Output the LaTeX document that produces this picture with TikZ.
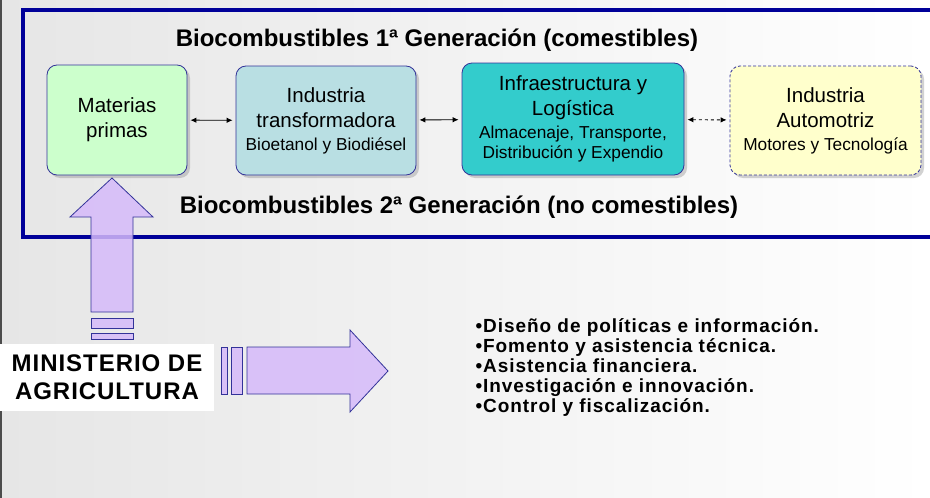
\documentclass[tikz,border=0pt]{standalone}
\usepackage{fontspec}
\setmainfont{Liberation Sans}
\usepackage{tikz}
\usetikzlibrary{positioning, shadows, arrows.meta}

\definecolor{marco}{RGB}{0,0,153}
\definecolor{borde}{RGB}{51,51,153}
\definecolor{verdeMP}{RGB}{204,255,204}
\definecolor{azulIT}{RGB}{185,223,227}
\definecolor{tealIL}{RGB}{51,204,204}
\definecolor{amarilloIA}{RGB}{255,255,204}
\definecolor{lila}{RGB}{214,186,250}
\definecolor{fondo}{RGB}{230,230,230}

\newcommand{\subtxt}[1]{{\fontsize{17.3}{21}\selectfont #1}}

\begin{document}
\begin{tikzpicture}[x=1pt, y=-1pt, font=\fontsize{20.5}{25}\selectfont]
        % Setup the styles
        \tikzset{etapa/.style={rectangle,
                               rounded corners=10pt,
                               draw=borde,
                               line width=0.8pt,
                               align=center,
                               inner sep=2pt,
                               drop shadow={shadow xshift=3pt, shadow yshift=-3pt, opacity=.35}},
                 enlace/.style={{Latex[length=6pt,width=5.5pt]}-{Latex[length=6pt,width=5.5pt]},
                                line width=0.9pt,
                                shorten <=3pt, shorten >=3pt},
                 flecha/.style={draw=borde, line width=0.8pt, fill=lila, fill opacity=.85},
                 titulo/.style={font=\bfseries\fontsize{24}{26}\selectfont}}

        % Background and frame
        \useasboundingbox (0,0) rectangle (930,498);
        \shade[left color=fondo, right color=white] (0,0) rectangle (930,498);
        \draw[gray!60!black, line width=2pt] (1,0) -- (1,498);
        \draw[marco, line width=4pt] (930,10) -- (23,10) -- (23,237) -- (930,237);

        % Draw the titles
        \node[titulo] at (437,40)  (gen1) {Biocombustibles 1ª Generación (comestibles)};
        \node[titulo] at (459,207) (gen2) {Biocombustibles 2ª Generación (no comestibles)};

        % Draw the stages
        \node[etapa, fill=verdeMP, minimum width=140pt, minimum height=110pt]
            at (117,120) (mp) {Materias\\primas};
        \node[etapa, fill=azulIT, minimum width=180pt, minimum height=109pt]
            at (326,120.5) (it) {Industria\\transformadora\\[-2pt]\subtxt{Bioetanol y Biodiésel}};
        \node[etapa, fill=tealIL, minimum width=222pt, minimum height=112pt]
            at (573,119) (inf) {Infraestructura y\\Logística\\[-2pt]\subtxt{Almacenaje, Transporte,}\\[-5pt]\subtxt{Distribución y Expendio}};
        \node[etapa, fill=amarilloIA, dash pattern=on 3pt off 2pt, minimum width=191pt, minimum height=109pt]
            at (825.5,120.5) (auto) {Industria\\Automotriz\\[-2pt]\subtxt{Motores y Tecnología}};

        % Connect the stages
        \draw[enlace] (mp) -- (it);
        \draw[enlace] (it) -- (inf);
        \draw[enlace, dashed] (inf) -- (auto);

        % Ministry arrows
        \draw[flecha] (91,312) -- (91,217) -- (70,217) -- (112,178) -- (153,217) -- (133,217) -- (133,312) -- cycle;
        \draw[flecha] (91,318) rectangle (133,328);
        \draw[flecha] (91,333) rectangle (133,339);
        \draw[flecha] (247,347) -- (350,347) -- (350,330) -- (388,371) -- (350,412) -- (350,394) -- (247,394) -- cycle;
        \draw[flecha] (221,347) rectangle (227,394);
        \draw[flecha] (231,347) rectangle (242,394);

        \node[fill=white, minimum width=214pt, minimum height=67pt, align=center,
              font=\bfseries\fontsize{24}{28}\selectfont\addfontfeature{LetterSpace=4}]
            at (107,377.5) (ministerio) {MINISTERIO DE\\AGRICULTURA};

        % Lines of action
        \node[anchor=west, align=left,
              font=\bfseries\fontsize{19}{20}\selectfont\addfontfeature{LetterSpace=5}]
            at (472,367) (acciones) {\textbullet Diseño de políticas e información.\\
                                     \textbullet Fomento y asistencia técnica.\\
                                     \textbullet Asistencia financiera.\\
                                     \textbullet Investigación e innovación.\\
                                     \textbullet Control y fiscalización.};
\end{tikzpicture}
\end{document}
